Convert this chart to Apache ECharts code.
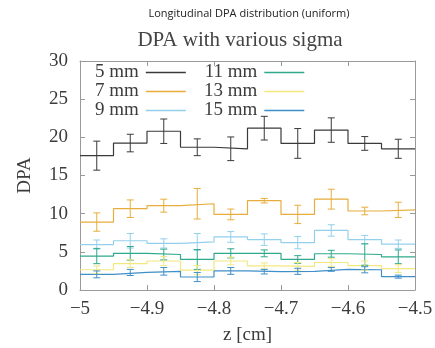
<!DOCTYPE html>
<html>
<head>
<meta charset="utf-8">
<script src="https://cdn.jsdelivr.net/npm/echarts@6/dist/echarts.min.js"></script>
<style>html,body{margin:0;padding:0;background:#fff}#c{width:435px;height:348px}</style>
</head>
<body>
<div id="c"></div>
<script>
// bin centres along z [cm]; each bin is 0.05 cm wide
const zCenters = [-4.975, -4.925, -4.875, -4.825, -4.775, -4.725, -4.675, -4.625, -4.575, -4.525];
const binWidth = 0.05;
const seriesNames = ['5 mm', '7 mm', '9 mm', '11 mm', '13 mm', '15 mm'];
const dpa5  = [17.6, 19.25, 20.8, 18.7, 18.5, 21.2, 19.2, 20.95, 19.2, 18.5];
const err5  = [1.9, 1.15, 1.6, 1.1, 1.55, 1.55, 1.95, 1.6, 0.9, 1.25];
const dpa7  = [8.9, 10.65, 11.05, 11.3, 9.9, 11.7, 9.9, 11.9, 10.35, 10.5];
const err7  = [1.2, 1.15, 0.85, 2.0, 0.7, 0.3, 1.2, 1.3, 0.5, 1.0];
const dpa9  = [5.95, 6.45, 6.1, 6.3, 6.95, 6.6, 6.2, 7.8, 6.6, 6.0];
const err9  = [0.6, 0.95, 0.6, 1.1, 0.7, 0.75, 0.8, 0.75, 0.55, 0.55];
const dpa11 = [4.45, 4.8, 4.65, 4.0, 4.8, 4.8, 4.0, 4.75, 4.65, 4.35];
const err11 = [1.0, 0.9, 0.7, 1.3, 0.6, 0.45, 0.5, 0.45, 1.4, 0.9];
const dpa13 = [2.65, 3.45, 3.8, 2.6, 3.8, 3.15, 3.1, 3.6, 3.2, 2.8];
const err13 = [0.5, 0.5, 0.6, 0.6, 0.5, 0.4, 0.5, 0.5, 0.6, 0.5];
const dpa15 = [2.05, 2.3, 2.45, 1.7, 2.5, 2.4, 2.45, 2.7, 2.65, 1.75];
const err15 = [0.45, 0.4, 0.5, 0.6, 0.45, 0.3, 0.4, 0.25, 0.4, 0.2];
const xTicks = [-5, -4.9, -4.8, -4.7, -4.6, -4.5];
const yTicks = [0, 5, 10, 15, 20, 25, 30];

const values = [dpa5, dpa7, dpa9, dpa11, dpa13, dpa15];
const errors = [err5, err7, err9, err11, err13, err15];
const colors = ['#3a3a3a', '#e8ad3c', '#93d0ec', '#2fa98b', '#f3e77f', '#3f8fc8'];

const serif = 'Liberation Serif';
const axisCol = '#9a9a9a';
const textCol = '#3c3c3c';

function stepData(vals) {
  const d = zCenters.map((c, i) => [c - binWidth / 2, vals[i]]);
  d.push([zCenters[zCenters.length - 1] + binWidth / 2, vals[vals.length - 1]]);
  return d;
}
function errRender(params, api) {
  const x = api.value(0), v = api.value(1), e = api.value(2);
  const top = api.coord([x, v + e]);
  const bot = api.coord([x, v - e]);
  const hw = 3.5;
  const st = { stroke: api.visual('color'), lineWidth: 1 };
  return {
    type: 'group',
    children: [
      { type: 'line', shape: { x1: top[0], y1: top[1], x2: bot[0], y2: bot[1] }, style: st },
      { type: 'line', shape: { x1: top[0] - hw, y1: top[1], x2: top[0] + hw, y2: top[1] }, style: st },
      { type: 'line', shape: { x1: bot[0] - hw, y1: bot[1], x2: bot[0] + hw, y2: bot[1] }, style: st }
    ]
  };
}

const series = [];
seriesNames.forEach((n, k) => {
  series.push({
    name: n, type: 'line', step: 'end', data: stepData(values[k]),
    color: colors[k], showSymbol: false, symbol: 'none',
    lineStyle: { width: 1.2, color: colors[k] }, z: 3
  });
  series.push({
    name: n + ' err', type: 'custom', renderItem: errRender,
    data: zCenters.map((c, i) => [c, values[k][i], errors[k][i]]),
    color: colors[k], itemStyle: { color: colors[k] },
    encode: { x: 0, y: 1 }, z: 4
  });
});

const fmtX = v => (Math.round(v * 10) / 10).toString().replace('-', '\u2212');
const axisCommon = {
  axisLine: { show: true, onZero: false, lineStyle: { color: axisCol, width: 1 } },
  axisTick: { show: true, inside: true, length: 5, lineStyle: { color: axisCol } },
  splitLine: { show: false }
};
const legendCommon = {
  orient: 'vertical', align: 'right', icon: 'rect', itemWidth: 40, itemHeight: 1.3,
  itemGap: 0, top: 63, padding: 0,
  textStyle: { fontFamily: serif, fontSize: 19, color: textCol, lineHeight: 17, padding: [0, 2, 0, 0] }
};

const chart = echarts.init(document.getElementById('c'), null, { renderer: 'canvas' });
chart.setOption({
  animation: false,
  backgroundColor: '#fff',
  grid: { left: 80, right: 20, top: 61, bottom: 58, containLabel: false, outerBoundsMode: 'none' },
  graphic: [
    { type: 'text', x: 249, y: 14, style: { text: 'Longitudinal DPA distribution (uniform)', font: '11px "Open Sans"', fill: '#222', textAlign: 'center', textVerticalAlign: 'middle' } },
    { type: 'text', x: 240, y: 40, style: { text: 'DPA with various sigma', font: '21px "Liberation Serif"', fill: '#444', textAlign: 'center', textVerticalAlign: 'middle' } }
  ],
  legend: [
    Object.assign({ data: seriesNames.slice(0, 3), left: 95 }, legendCommon),
    Object.assign({ data: seriesNames.slice(3), left: 204 }, legendCommon)
  ],
  xAxis: [
    Object.assign({
      type: 'value', position: 'bottom', min: xTicks[0], max: xTicks[xTicks.length - 1], interval: 0.1,
      name: 'z [cm]', nameLocation: 'middle', nameGap: 36,
      nameTextStyle: { fontFamily: serif, fontSize: 19, color: textCol },
      axisLabel: { formatter: fmtX, fontFamily: serif, fontSize: 19, color: textCol, margin: 10 }
    }, axisCommon),
    Object.assign({
      type: 'value', position: 'top', min: xTicks[0], max: xTicks[xTicks.length - 1], interval: 0.1,
      axisLabel: { show: false }
    }, axisCommon)
  ],
  yAxis: [
    Object.assign({
      type: 'value', position: 'left', min: yTicks[0], max: yTicks[yTicks.length - 1], interval: 5,
      name: 'DPA', nameLocation: 'middle', nameGap: 45, nameRotate: 90,
      nameTextStyle: { fontFamily: serif, fontSize: 19, color: textCol },
      axisLabel: { fontFamily: serif, fontSize: 19, color: textCol, margin: 12 }
    }, axisCommon),
    Object.assign({
      type: 'value', position: 'right', min: yTicks[0], max: yTicks[yTicks.length - 1], interval: 5,
      axisLabel: { show: false }
    }, axisCommon)
  ],
  series: series
});
</script>
</body>
</html>
